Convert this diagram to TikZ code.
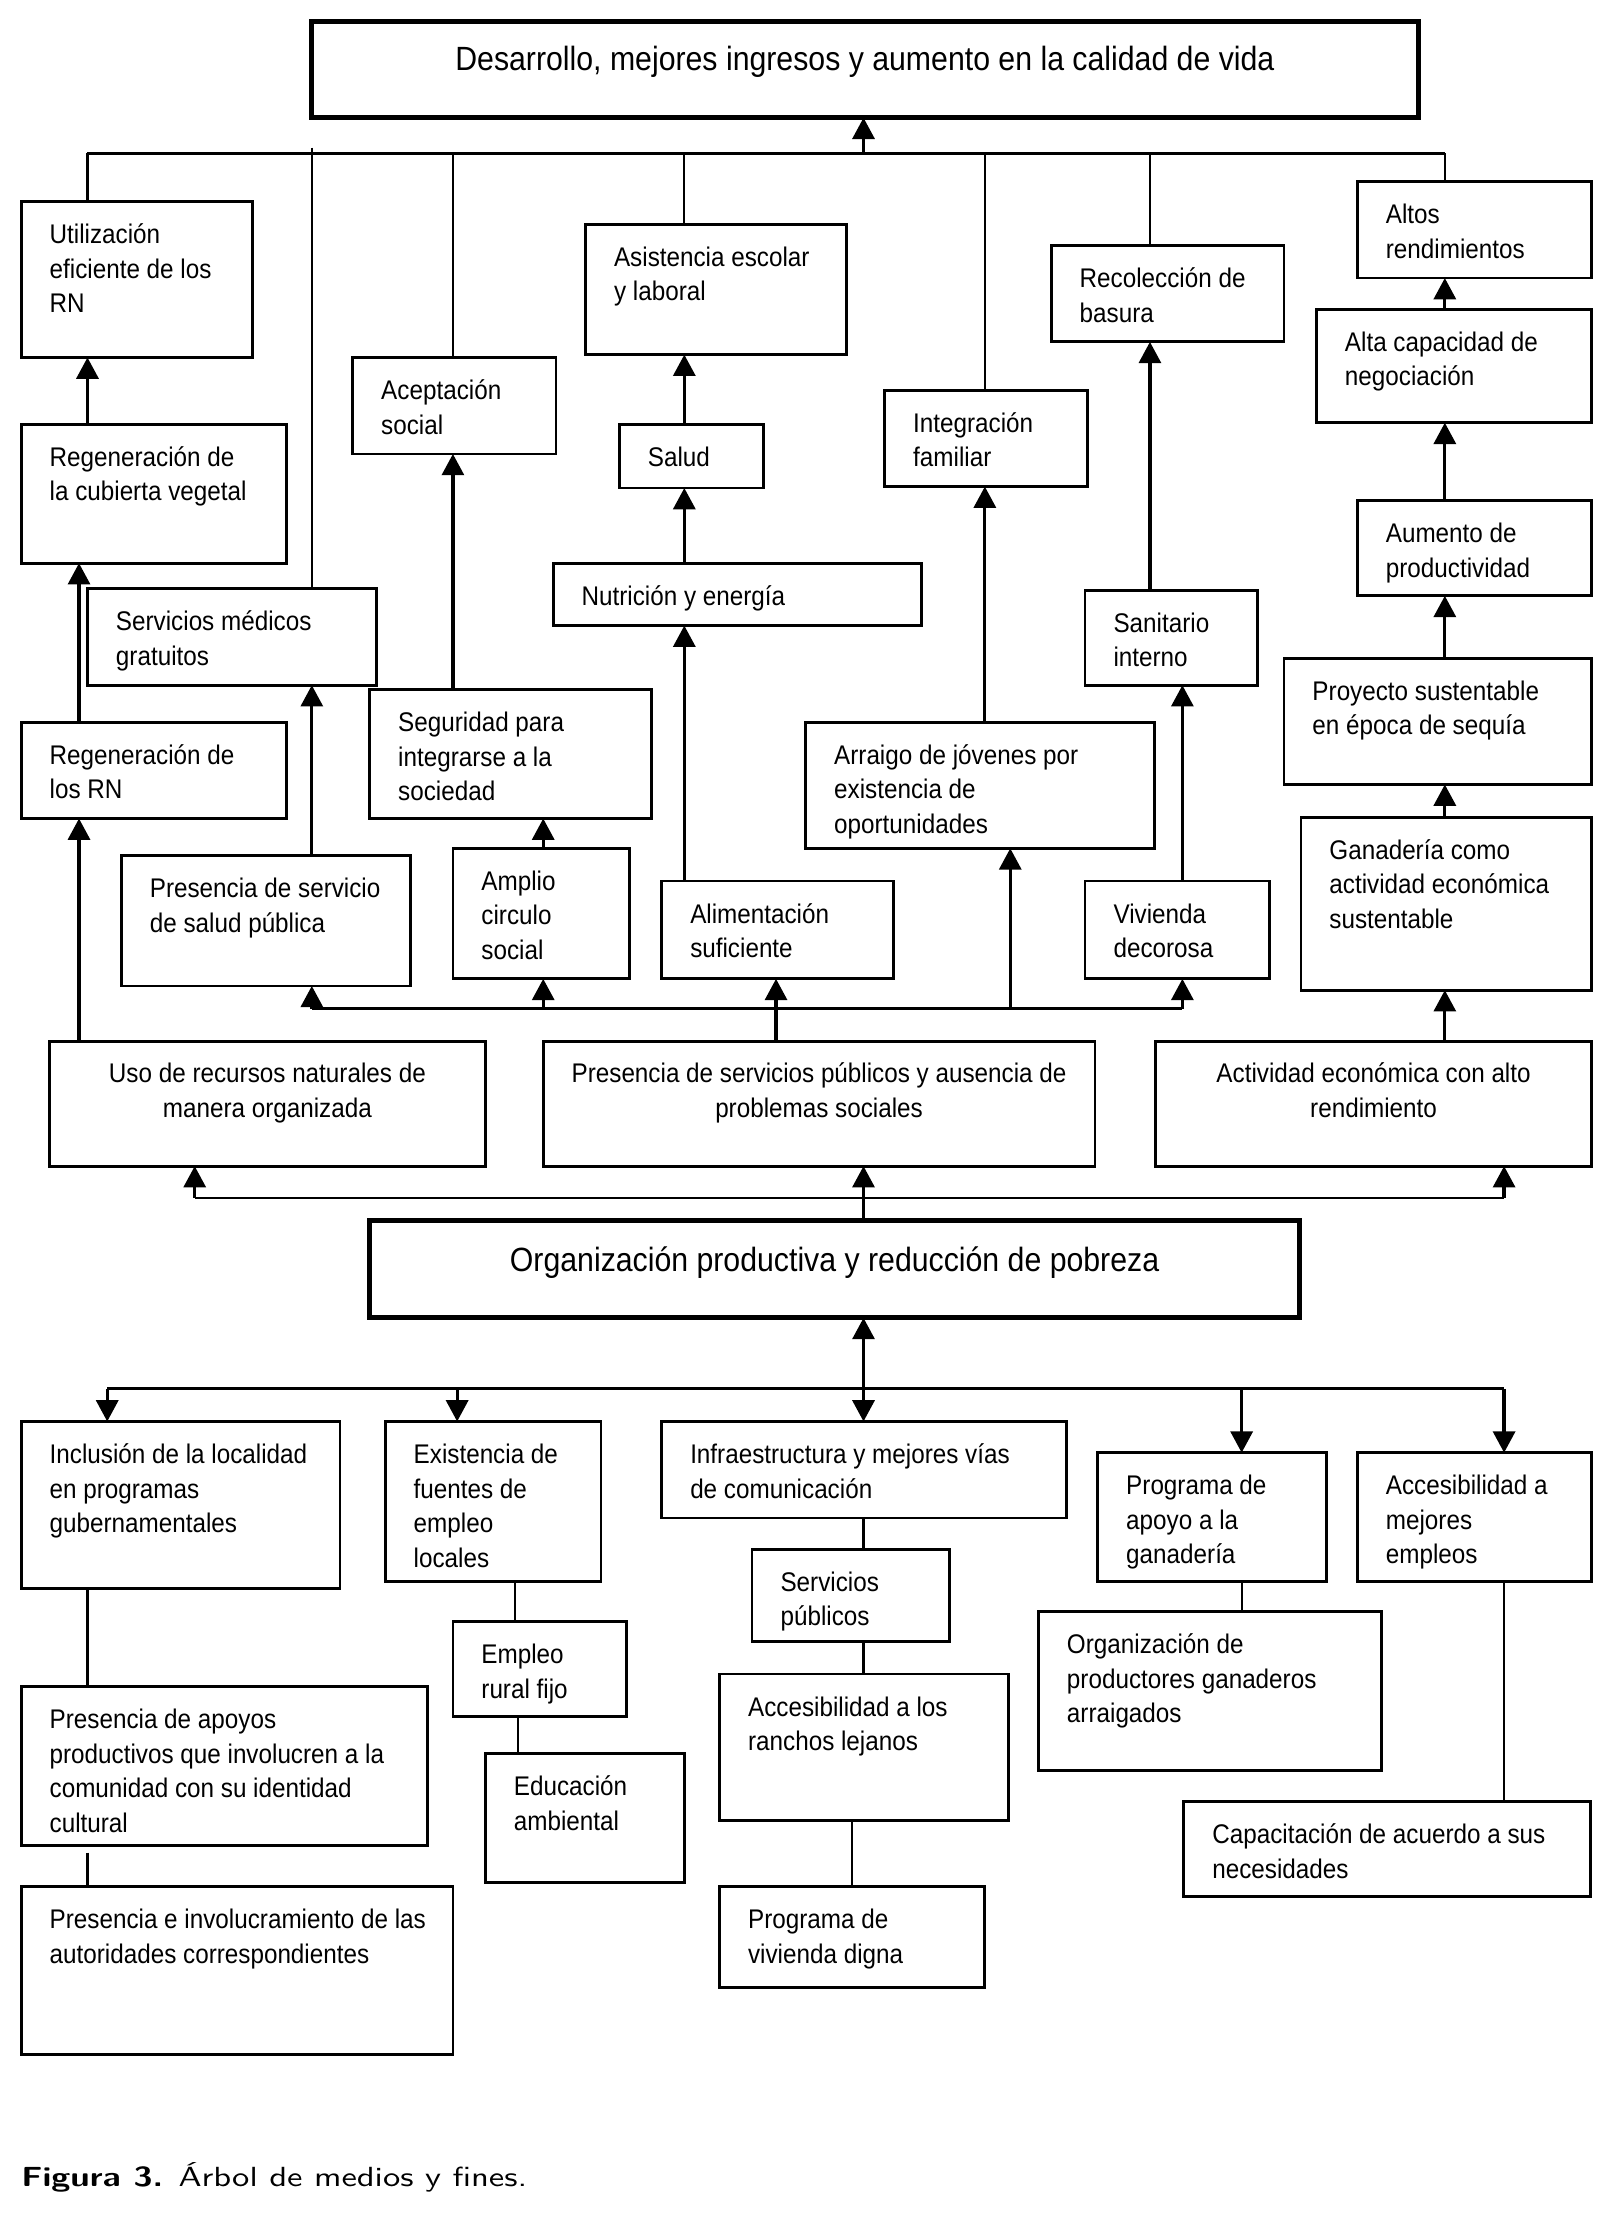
\documentclass[tikz,border=0pt]{standalone}
\usepackage{fontspec}
\setmainfont{Liberation Sans}[FakeStretch=0.9]
\newfontfamily\capfont{lmsans10-regular}[Extension=.otf, BoldFont=lmsans10-bold, FakeStretch=1.25]
\usetikzlibrary{arrows.meta}
\newcommand\mybox[6]{%
  \node[box, minimum width={(#4-#2)*0.9946}, minimum height=#5pt-#3pt] (#1) at (#2,-#3) {};
  \node[txt] (#1t) at (#2+20,-#3-12.5) {\rule{0pt}{17pt}#6};
}
\newcommand\mycbox[6]{%
  \node[box, minimum width={(#4-#2)*0.9946}, minimum height=#5pt-#3pt] (#1) at (#2,-#3) {};
  \node[ctxt] (#1t) at ({(#2+#4)/2},{-#3-12}) {\rule{0pt}{17pt}#6};
}
\begin{document}
\begin{tikzpicture}[x=0.9946pt,y=1pt,
  box/.style={draw, line width=2pt, inner sep=0pt, outer sep=0pt, anchor=north west},
  mainbox/.style={draw, line width=3.5pt, inner sep=0pt, outer sep=0pt, anchor=north west},
  txt/.style={inner sep=0pt, anchor=north west, align=left, font=\fontsize{19}{24.3}\selectfont},
  ctxt/.style={inner sep=0pt, anchor=north, align=center, font=\fontsize{19}{24.3}\selectfont},
  bigtxt/.style={inner sep=0pt, anchor=base, font=\fontsize{23.7}{28}\selectfont},
  arr/.style={line width=2.3pt, -{Triangle[length=15pt,width=15.5pt]}},
  bus/.style={line width=2pt},
  ln/.style={line width=1.5pt}]
\useasboundingbox (0,0) rectangle (1143.2,-1565.6);
\foreach \c in {56,62,76,138,221,321,324,365,367,385,485,550,604,612,698,716,815,838,880,1024,1066}
  \coordinate (x\c) at (\c,0);
\coordinate (hl) at (0,-108);
\coordinate (hl2) at (0,-104);
\coordinate (h711) at (0,-711);
\coordinate (h845) at (0,-844.5);
\coordinate (h979) at (0,-979);

% main boxes
\node[mainbox, minimum width={784*0.9946}, minimum height=68pt] (top) at (221,-15) {};
\node[bigtxt] (topt) at (613,-50) {Desarrollo, mejores ingresos y aumento en la calidad de vida};
\node[mainbox, minimum width={659*0.9946}, minimum height=69pt] (org) at (262,-860) {};
\node[bigtxt] (orgt) at (591.5,-896) {Organización productiva y reducción de pobreza};

% upper boxes
\mybox{util}{15}{142}{179}{252}{Utilización\\eficiente de los\\RN}
\mybox{regc}{15}{299}{203}{397}{Regeneración de\\la cubierta vegetal}
\mybox{serv}{62}{415}{267}{483}{Servicios médicos\\gratuitos}
\mybox{regrn}{15}{509}{203}{577}{Regeneración de\\los RN}
\mybox{psalud}{86}{603}{291}{695}{Presencia de servicio\\de salud pública}
\mybox{acep}{250}{252}{394}{320}{Aceptación\\social}
\mybox{segu}{262}{486}{462}{577}{Seguridad para\\integrarse a la\\sociedad}
\mybox{ampl}{321}{598}{446}{690}{Amplio\\circulo\\social}
\mybox{asis}{415}{158}{600}{250}{Asistencia escolar\\y laboral}
\mybox{salud}{439}{299}{541}{344}{Salud}
\mybox{nutr}{392}{397}{653}{441}{Nutrición y energía}
\mybox{alim}{469}{621}{633}{690}{Alimentación\\suficiente}
\mybox{integ}{627}{275}{771}{343}{Integración\\familiar}
\mybox{arra}{571}{509}{818}{598}{Arraigo de jóvenes por\\existencia de\\oportunidades}
\mybox{reco}{745}{173}{910}{241}{Recolección de\\basura}
\mybox{sani}{769}{416}{891}{483}{Sanitario\\interno}
\mybox{vivi}{769}{621}{900}{690}{Vivienda\\decorosa}
\mybox{altos}{962}{128}{1128}{196}{Altos\\rendimientos}
\mybox{alta}{933}{218}{1128}{298}{Alta capacidad de\\negociación}
\mybox{aume}{962}{353}{1128}{420}{Aumento de\\productividad}
\mybox{proy}{910}{464}{1128}{553}{Proyecto sustentable\\en época de sequía}
\mybox{gana}{922}{576}{1128}{698}{Ganadería como\\actividad económica\\sustentable}

% middle boxes
\mycbox{uso}{35}{734}{344}{822}{Uso de recursos naturales de\\manera organizada}
\mycbox{pres}{385}{734}{776}{822}{Presencia de servicios públicos y ausencia de\\problemas sociales}
\mycbox{acti}{819}{734}{1128}{822}{Actividad económica con alto\\rendimiento}

% lower boxes
\mybox{incl}{15}{1002}{241}{1120}{Inclusión de la localidad\\en programas\\gubernamentales}
\mybox{exis}{273}{1002}{426}{1115}{Existencia de\\fuentes de\\empleo\\locales}
\mybox{infra}{469}{1002}{756}{1070}{Infraestructura y mejores vías\\de comunicación}
\mybox{prog}{778}{1024}{940}{1115}{Programa de\\apoyo a la\\ganadería}
\mybox{accm}{962}{1024}{1128}{1115}{Accesibilidad a\\mejores\\empleos}
\mybox{spub}{533}{1092}{673}{1157}{Servicios\\públicos}
\mybox{empl}{321}{1143}{444}{1210}{Empleo\\rural fijo}
\mybox{orgp}{736}{1136}{979}{1248}{Organización de\\productores ganaderos\\arraigados}
\mybox{papo}{15}{1189}{303}{1301}{Presencia de apoyos\\productivos que involucren a la\\comunidad con su identidad\\cultural}
\mybox{pinv}{15}{1330}{321}{1448}{Presencia e involucramiento de las\\autoridades correspondientes}
\mybox{educ}{344}{1236}{485}{1327}{Educación\\ambiental}
\mybox{accr}{510}{1180}{715}{1283}{Accesibilidad a los\\ranchos lejanos}
\mybox{pviv}{510}{1330}{698}{1401}{Programa de\\vivienda digna}
\mybox{capa}{839}{1270}{1127}{1337}{Capacitación de acuerdo a sus\\necesidades}

% top bus
\draw[bus] (x62|-hl) -- (x1024|-hl);
\foreach \c/\n in {62/util,321/acep,485/asis,698/integ,815/reco,1024/altos}
  \draw[ln] (x\c|-hl) -- (\n.north -| x\c);
\draw[ln] (x221|-hl2) -- (serv.north -| x221);
\draw[arr] (x612|-hl) -- (top.south -| x612);

% vertical arrows between boxes
\foreach \c/\a/\b in {62/regc/util, 56/regrn/regc, 56/uso/regrn, 221/psalud/serv,
  321/segu/acep, 385/ampl/segu, 485/salud/asis, 485/nutr/salud, 485/alim/nutr,
  698/arra/integ, 815/sani/reco, 838/vivi/sani, 1024/alta/altos, 1024/aume/alta,
  1024/proy/aume, 1024/gana/proy, 1024/acti/gana, 550/pres/alim, 612/org/pres}
  \draw[arr] (\a.north -| x\c) -- (\b.south -| x\c);

% bus y=711
\draw[bus] (x221|-h711) -- (x838|-h711);
\foreach \c/\b in {221/psalud,385/ampl,716/arra,838/vivi}
  \draw[arr] (x\c|-h711) -- (\b.south -| x\c);

% bus y=845
\draw[bus] (x138|-h845) -- (x1066|-h845);
\foreach \c/\b in {138/uso,1066/acti}
  \draw[arr] (x\c|-h845) -- (\b.south -| x\c);

% bus y=979
\draw[bus] (x76|-h979) -- (x1066|-h979);
\draw[arr] (x612|-h979) -- (org.south -| x612);
\foreach \c/\b in {76/incl,324/exis,612/infra,880/prog,1066/accm}
  \draw[arr] (x\c|-h979) -- (\b.north -| x\c);

% plain links
\foreach \c/\a/\b in {62/incl/papo, 365/exis/empl, 367/empl/educ, 612/infra/spub,
  612/spub/accr, 604/accr/pviv, 880/prog/orgp, 1066/accm/capa}
  \draw[ln] (\a.south -| x\c) -- (\b.north -| x\c);
\draw[ln, shorten <=5pt] (papo.south -| x62) -- (pinv.north -| x62);

% caption
\node[inner sep=0pt, anchor=base west, font=\capfont\fontsize{19.5}{22}\selectfont] (cap) at (15,-1541)
  {\textbf{Figura 3.} Árbol de medios y fines.};
\end{tikzpicture}
\end{document}
